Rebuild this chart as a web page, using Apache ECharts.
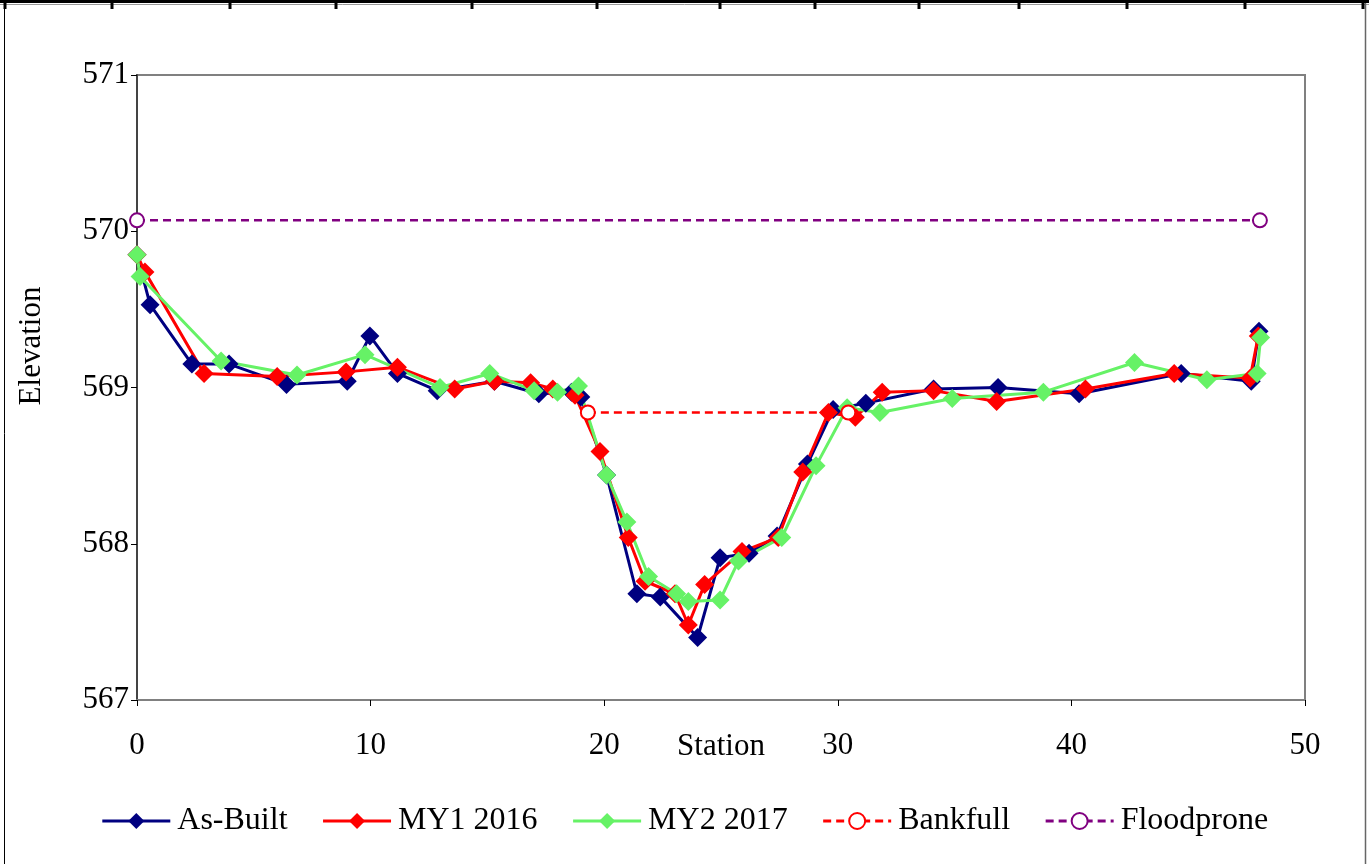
<!DOCTYPE html>
<html>
<head>
<meta charset="utf-8">
<script src="https://cdn.jsdelivr.net/npm/echarts@6/dist/echarts.min.js"></script>
<style>
html,body{margin:0;padding:0;background:#fff;}
#chart{width:1369px;height:864px;}
</style>
</head>
<body>
<div id="chart"></div>
<script>
// ---- data ----
const asBuiltX = [0, 0.56, 2.35, 3.94, 6.4, 9.0, 9.97, 11.15, 12.85, 15.3, 17.2, 18.6, 19.0, 20.1, 21.4, 22.4, 24.0, 24.96, 26.2, 27.4, 28.7, 29.8, 31.2, 34.1, 36.86, 40.33, 44.7, 47.7, 48.03];
const asBuiltY = [569.85, 569.53, 569.15, 569.15, 569.02, 569.04, 569.33, 569.09, 568.98, 569.04, 568.96, 568.97, 568.94, 568.44, 567.68, 567.66, 567.40, 567.91, 567.94, 568.05, 568.51, 568.86, 568.90, 568.99, 569.0, 568.96, 569.09, 569.04, 569.36];

const my1X = [0, 0.34, 2.87, 6.0, 8.95, 11.15, 13.6, 15.3, 16.85, 17.8, 18.75, 19.82, 21.03, 21.75, 23.03, 23.6, 24.3, 25.9, 27.45, 28.5, 29.6, 30.75, 31.9, 34.1, 36.8, 40.6, 44.4, 47.65, 48.0];
const my1Y = [569.85, 569.74, 569.09, 569.07, 569.10, 569.13, 568.99, 569.04, 569.03, 568.99, 568.95, 568.59, 568.04, 567.76, 567.68, 567.48, 567.74, 567.95, 568.04, 568.46, 568.84, 568.81, 568.97, 568.98, 568.91, 568.99, 569.09, 569.06, 569.33];

const my2X = [0, 0.13, 3.6, 6.85, 9.76, 12.97, 15.1, 17.0, 18.0, 18.9, 20.1, 20.97, 21.9, 23.1, 23.6, 24.96, 25.75, 27.6, 29.07, 30.4, 31.8, 34.9, 38.8, 42.7, 45.8, 47.95, 48.1];
const my2Y = [569.85, 569.71, 569.17, 569.08, 569.21, 569.0, 569.09, 568.98, 568.97, 569.01, 568.44, 568.14, 567.79, 567.68, 567.63, 567.64, 567.89, 568.04, 568.5, 568.87, 568.84, 568.93, 568.97, 569.16, 569.05, 569.09, 569.32];

const bankfullX = [19.3, 30.45];
const bankfullY = [568.84, 568.84];

const floodproneX = [0, 48.07];
const floodproneY = [570.07, 570.07];

const xTicks = [0, 10, 20, 30, 40, 50];
const yTicks = [567, 568, 569, 570, 571];

const topMarks = [5, 112, 230, 336, 472, 597, 720, 815, 919, 1019, 1127, 1245, 1363];

function pairs(xs, ys) { return xs.map((x, i) => [x, ys[i]]); }

const FONT = 'Liberation Serif';
const chart = echarts.init(document.getElementById('chart'));

const graphics = [
  { type: 'rect', shape: { x: 0, y: 0, width: 1369, height: 3 }, style: { fill: '#000' }, silent: true },
  { type: 'line', shape: { x1: 0, y1: 4.5, x2: 1369, y2: 4.5 }, style: { stroke: '#999', lineWidth: 1 }, silent: true },
  { type: 'line', shape: { x1: 4.5, y1: 3, x2: 4.5, y2: 864 }, style: { stroke: '#000', lineWidth: 1 }, silent: true },
  { type: 'line', shape: { x1: 1365.5, y1: 3, x2: 1365.5, y2: 864 }, style: { stroke: '#666', lineWidth: 1.5 }, silent: true },
  { type: 'text', x: 32, y: 346, rotation: Math.PI / 2, style: { text: 'Elevation', font: '31px "' + FONT + '"', fill: '#000', align: 'center', verticalAlign: 'middle' }, silent: true }
];
topMarks.forEach(x => graphics.push({ type: 'rect', shape: { x: x - 1.5, y: 0, width: 3, height: 9 }, style: { fill: '#000' }, silent: true }));

const diamond = 'diamond';
chart.setOption({
  animation: false,
  backgroundColor: '#fff',
  textStyle: { fontFamily: FONT },
  graphic: graphics,
  grid: { left: 137, right: 64, top: 75, bottom: 164, show: true, borderColor: '#808080', borderWidth: 2, backgroundColor: 'transparent' },
  xAxis: {
    type: 'value', min: 0, max: 50, interval: 10,
    name: 'Station', nameLocation: 'middle', nameGap: 31, nameMoveOverlap: false,
    nameTextStyle: { fontFamily: FONT, fontSize: 31, color: '#000' },
    axisLine: { show: true, lineStyle: { color: '#808080', width: 2 } },
    axisTick: { show: true, length: 6, lineStyle: { color: '#000' } },
    axisLabel: { fontFamily: FONT, fontSize: 31, color: '#000', margin: 30 },
    splitLine: { show: false }
  },
  yAxis: {
    type: 'value', min: 567, max: 571, interval: 1,
    axisLine: { show: true, lineStyle: { color: '#444', width: 2 } },
    axisTick: { show: true, length: 6, lineStyle: { color: '#000' } },
    axisLabel: { fontFamily: FONT, fontSize: 31, color: '#000', margin: 8 },
    splitLine: { show: false }
  },
  legend: {
    top: 800, left: 'center',
    itemWidth: 68, itemHeight: 20, itemGap: 34,
    lineStyle: { width: 3 },
    textStyle: { fontFamily: FONT, fontSize: 32, color: '#000', padding: [0, 0, 0, 2] },
    data: ['As-Built', 'MY1 2016', 'MY2 2017', 'Bankfull', 'Floodprone']
  },
  series: [
    { name: 'As-Built', type: 'line', data: pairs(asBuiltX, asBuiltY), symbol: diamond, symbolSize: 19,
      lineStyle: { color: '#000080', width: 3 }, itemStyle: { color: '#000080' } },
    { name: 'MY1 2016', type: 'line', data: pairs(my1X, my1Y), symbol: diamond, symbolSize: 19,
      lineStyle: { color: '#FF0000', width: 3 }, itemStyle: { color: '#FF0000' } },
    { name: 'MY2 2017', type: 'line', data: pairs(my2X, my2Y), symbol: diamond, symbolSize: 19,
      lineStyle: { color: '#66F266', width: 3 }, itemStyle: { color: '#66F266' } },
    { name: 'Bankfull', type: 'line', data: pairs(bankfullX, bankfullY), symbol: 'emptyCircle', symbolSize: 14,
      lineStyle: { color: '#FF0000', width: 2.5, type: [8, 5] }, itemStyle: { color: '#FF0000', borderWidth: 1.5 } },
    { name: 'Floodprone', type: 'line', data: pairs(floodproneX, floodproneY), symbol: 'emptyCircle', symbolSize: 14,
      lineStyle: { color: '#800080', width: 2.5, type: [8, 5] }, itemStyle: { color: '#800080', borderWidth: 1.5 } }
  ]
});
</script>
</body>
</html>
